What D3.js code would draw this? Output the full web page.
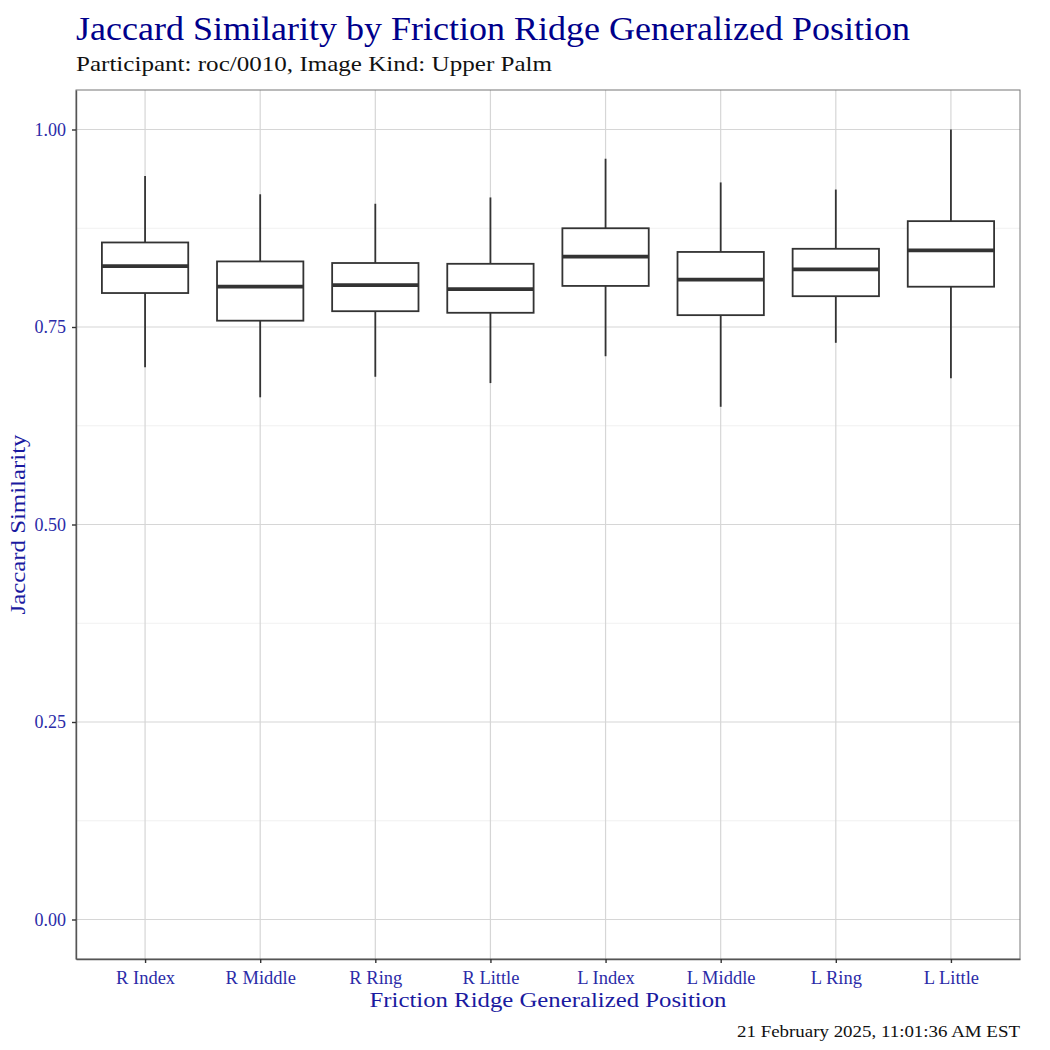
<!DOCTYPE html>
<html><head><meta charset="utf-8">
<script src="https://cdn.jsdelivr.net/npm/d3@7"></script>
<style>body{margin:0;background:#fff}svg{display:block}</style>
</head><body>
<svg id="chart" width="1050" height="1050"></svg>
<script>
const categories = ["R Index","R Middle","R Ring","R Little","L Index","L Middle","L Ring","L Little"];
const whiskerLow  = [0.699,0.661,0.687,0.679,0.713,0.649,0.730,0.685];
const q1Values    = [0.793,0.758,0.770,0.768,0.802,0.765,0.789,0.801];
const medians     = [0.827,0.801,0.803,0.798,0.839,0.810,0.823,0.847];
const q3Values    = [0.857,0.833,0.831,0.830,0.875,0.845,0.849,0.884];
const whiskerHigh = [0.941,0.918,0.906,0.914,0.963,0.933,0.924,1.000];
const yTicks = [0, 0.25, 0.5, 0.75, 1.0];
const yMinor = [0.125, 0.375, 0.625, 0.875];

const titleText = "Jaccard Similarity by Friction Ridge Generalized Position";
const subtitleText = "Participant: roc/0010, Image Kind: Upper Palm";
const xTitle = "Friction Ridge Generalized Position";
const yTitle = "Jaccard Similarity";
const captionText = "21 February 2025, 11:01:36 AM EST";

const font = "'Liberation Serif', 'DejaVu Serif', serif";
const svg = d3.select("#chart");
const L = 76, R = 1020, T = 90, B = 959;

const x = d3.scalePoint().domain(categories).range([L, R]).padding(0.6);
const y = d3.scaleLinear().domain([-0.05, 1.05]).range([B, T]);
const step = x.step();
const bw = step * 0.75;

svg.append("rect").attr("width",1050).attr("height",1050).attr("fill","#fff");

const grid = svg.append("g");
grid.selectAll(".minor").data(yMinor).join("line")
  .attr("x1",L).attr("x2",R).attr("y1",d=>y(d)).attr("y2",d=>y(d))
  .attr("stroke","#ededed").attr("stroke-width",0.8);
grid.selectAll(".majy").data(yTicks).join("line")
  .attr("x1",L).attr("x2",R).attr("y1",d=>y(d)).attr("y2",d=>y(d))
  .attr("stroke","#d6d6d6").attr("stroke-width",1.2);
grid.selectAll(".majx").data(categories).join("line")
  .attr("x1",d=>x(d)).attr("x2",d=>x(d)).attr("y1",T).attr("y2",B)
  .attr("stroke","#d6d6d6").attr("stroke-width",1.2);

// boxes
const data = categories.map((c,i)=>({c, lo:whiskerLow[i], q1:q1Values[i], med:medians[i], q3:q3Values[i], hi:whiskerHigh[i]}));
const boxes = svg.append("g").selectAll("g").data(data).join("g");
boxes.append("line").attr("x1",d=>x(d.c)).attr("x2",d=>x(d.c))
  .attr("y1",d=>y(d.hi)).attr("y2",d=>y(d.q3)).attr("stroke","#333").attr("stroke-width",1.8);
boxes.append("line").attr("x1",d=>x(d.c)).attr("x2",d=>x(d.c))
  .attr("y1",d=>y(d.q1)).attr("y2",d=>y(d.lo)).attr("stroke","#333").attr("stroke-width",1.8);
boxes.append("rect").attr("x",d=>x(d.c)-bw/2).attr("width",bw)
  .attr("y",d=>y(d.q3)).attr("height",d=>y(d.q1)-y(d.q3))
  .attr("fill","#fff").attr("stroke","#333").attr("stroke-width",1.8);
boxes.append("line").attr("x1",d=>x(d.c)-bw/2).attr("x2",d=>x(d.c)+bw/2)
  .attr("y1",d=>y(d.med)).attr("y2",d=>y(d.med)).attr("stroke","#333").attr("stroke-width",3.8);

// panel border
svg.append("rect").attr("x",L).attr("y",T).attr("width",R-L).attr("height",B-T)
  .attr("fill","none").attr("stroke","#777").attr("stroke-width",1);

// axes
const yAxis = svg.append("g").attr("transform",`translate(${L},0)`)
  .call(d3.axisLeft(y).tickValues(yTicks).tickFormat(d3.format(".2f")).tickSize(4).tickSizeOuter(0).tickPadding(6));
const xAxis = svg.append("g").attr("transform",`translate(0,${B})`)
  .call(d3.axisBottom(x).tickSize(4).tickSizeOuter(0).tickPadding(4));
[yAxis,xAxis].forEach(a=>{
  a.select(".domain").attr("stroke","#555").attr("stroke-width",1.4);
  a.selectAll(".tick line").attr("stroke","#333").attr("stroke-width",1.4);
  a.selectAll(".tick text").attr("fill","#2b2ba8").attr("font-family",font);
});
yAxis.selectAll(".tick text").attr("font-size","18px");
xAxis.selectAll(".tick text").attr("font-size","18.5px").attr("dy","0.9em");

// titles
svg.append("text").attr("x",L).attr("y",40).text(titleText)
  .attr("font-family",font).attr("font-size","33px").attr("fill","#00008b")
  .attr("textLength",834).attr("lengthAdjust","spacingAndGlyphs");
svg.append("text").attr("x",L).attr("y",71).text(subtitleText)
  .attr("font-family",font).attr("font-size","22px").attr("fill","#111")
  .attr("textLength",476).attr("lengthAdjust","spacingAndGlyphs");
svg.append("text").attr("x",(L+R)/2).attr("y",1007).attr("text-anchor","middle").text(xTitle)
  .attr("font-family",font).attr("font-size","22px").attr("fill","#1a1aa0")
  .attr("textLength",357).attr("lengthAdjust","spacingAndGlyphs");
svg.append("text").attr("transform",`translate(25,${(T+B)/2}) rotate(-90)`).attr("text-anchor","middle").text(yTitle)
  .attr("font-family",font).attr("font-size","22px").attr("fill","#1a1aa0")
  .attr("textLength",180).attr("lengthAdjust","spacingAndGlyphs");
svg.append("text").attr("x",R).attr("y",1037).attr("text-anchor","end").text(captionText)
  .attr("font-family",font).attr("font-size","17px").attr("fill","#111")
  .attr("textLength",283).attr("lengthAdjust","spacingAndGlyphs");
</script>
</body></html>
